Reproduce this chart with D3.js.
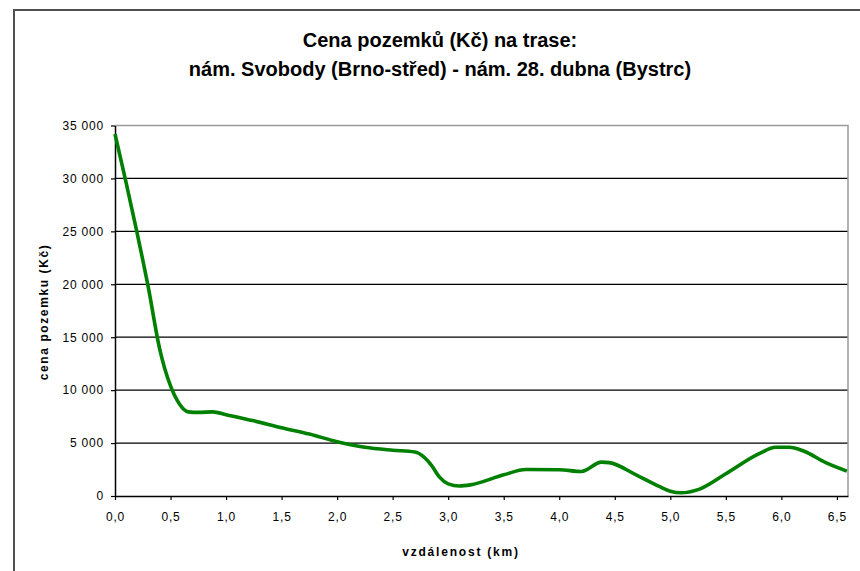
<!DOCTYPE html>
<html>
<head>
<meta charset="utf-8">
<script src="https://cdn.jsdelivr.net/npm/d3@7"></script>
<style>
    body { margin: 0; background: #fff; }
    svg { display: block; font-family: "Liberation Sans", Arial, sans-serif; }
</style>
</head>
<body>
<svg></svg>
<script>
// distance along the route (km)
let distances = [0, 0.1, 0.2, 0.3, 0.4, 0.5, 0.58, 0.66, 0.75, 0.88, 1.0, 1.25, 1.5, 1.75, 2.0, 2.25, 2.5, 2.7, 2.78, 2.85, 2.92, 3.0, 3.1, 3.2, 3.5, 3.7, 4.0, 4.2, 4.38, 4.45, 4.7, 4.9, 5.0, 5.1, 5.25, 5.5, 5.8, 5.95, 6.07, 6.2, 6.4, 6.59]
// land price (Kč)
let prices = [34200, 29600, 24800, 19700, 14000, 10400, 8700, 7950, 7900, 7950, 7680, 7100, 6450, 5850, 5130, 4600, 4320, 4150, 3700, 2900, 1800, 1150, 950, 1050, 2000, 2500, 2480, 2320, 3200, 3150, 1950, 900, 450, 300, 600, 2100, 4000, 4600, 4600, 4250, 3150, 2350]

let xTicks = [0, 0.5, 1, 1.5, 2, 2.5, 3, 3.5, 4, 4.5, 5, 5.5, 6, 6.5]
let yTicks = [0, 5000, 10000, 15000, 20000, 25000, 30000, 35000]

let titleLines = ['Cena pozemků (Kč) na trase:', 'nám. Svobody (Brno-střed) - nám. 28. dubna (Bystrc)']
let xTitle = 'vzdálenost (km)'
let yTitle = 'cena pozemku (Kč)'

let width = 860
let height = 571
let plotLeft = 115
let plotRight = 848
let plotTop = 125.5
let plotBottom = 496

let svg = d3.select('svg')
    .attr('width', width)
    .attr('height', height)

let values = distances.map((d, i) => [d, prices[i]])

let xScale = d3.scaleLinear().domain([0, 6.6]).range([plotLeft, plotRight])
let yScale = d3.scaleLinear().domain([0, 35000]).range([plotBottom, plotTop])

let fmtY = (v) => d3.format(',')(v).replace(/,/g, ' ')
let fmtX = (v) => d3.format('.1f')(v).replace('.', ',')

// outer frame (only left and top edges fall inside the picture)
svg.append('path')
    .attr('d', 'M14,' + height + 'V10H' + width)
    .attr('fill', 'none')
    .attr('stroke', '#505050')
    .attr('stroke-width', 2)

// title
svg.append('g')
    .selectAll('text')
    .data(titleLines)
    .enter()
    .append('text')
    .attr('x', 440)
    .attr('y', (d, i) => 47 + i * 29)
    .attr('text-anchor', 'middle')
    .style('font-size', '20px')
    .style('font-weight', 'bold')
    .text((d) => d)

// grid lines
svg.append('g')
    .selectAll('line')
    .data(yTicks.filter((v) => v > 0 && v < 35000))
    .enter()
    .append('line')
    .attr('x1', plotLeft)
    .attr('x2', plotRight)
    .attr('y1', (v) => yScale(v))
    .attr('y2', (v) => yScale(v))
    .attr('stroke', '#000')
    .attr('stroke-width', 1.2)

// plot border top / right
svg.append('path')
    .attr('d', 'M' + plotLeft + ',' + yScale(35000) + 'H' + plotRight + 'V' + plotBottom)
    .attr('fill', 'none')
    .attr('stroke', '#9a9a9a')
    .attr('stroke-width', 1.5)

// axes
let xAxis = d3.axisBottom(xScale).tickValues(xTicks).tickSize(4).tickSizeOuter(0).tickFormat(fmtX).tickPadding(12)
svg.append('g')
    .attr('id', 'x-axis')
    .attr('transform', 'translate(0, ' + plotBottom + ')')
    .call(xAxis)

let yAxis = d3.axisLeft(yScale).tickValues(yTicks).tickSize(4).tickSizeOuter(0).tickFormat(fmtY).tickPadding(7)
svg.append('g')
    .attr('id', 'y-axis')
    .attr('transform', 'translate(' + plotLeft + ', 0)')
    .call(yAxis)

svg.selectAll('#x-axis path, #y-axis path').attr('stroke', '#000').attr('stroke-width', 1.5)
svg.selectAll('#x-axis .tick line, #y-axis .tick line').attr('stroke', '#000').attr('stroke-width', 1.2)
svg.selectAll('#x-axis text, #y-axis text')
    .attr('fill', '#000')
    .style('font-family', '"Liberation Sans", Arial, sans-serif')
    .style('font-size', '12px')
    .style('letter-spacing', '0.8px')

// price line
let line = d3.line()
    .x((d) => xScale(d[0]))
    .y((d) => yScale(d[1]))
    .curve(d3.curveMonotoneX)

svg.append('path')
    .datum(values)
    .attr('d', line)
    .attr('fill', 'none')
    .attr('stroke', '#008000')
    .attr('stroke-width', 3.6)
    .attr('stroke-linejoin', 'round')

// axis titles
svg.append('text')
    .attr('x', 461)
    .attr('y', 556)
    .attr('text-anchor', 'middle')
    .style('font-size', '12px')
    .style('font-weight', 'bold')
    .style('letter-spacing', '1.8px')
    .text(xTitle)

svg.append('text')
    .attr('transform', 'translate(48, 312) rotate(-90)')
    .attr('text-anchor', 'middle')
    .style('font-size', '12px')
    .style('font-weight', 'bold')
    .style('letter-spacing', '1.6px')
    .text(yTitle)
</script>
</body>
</html>
